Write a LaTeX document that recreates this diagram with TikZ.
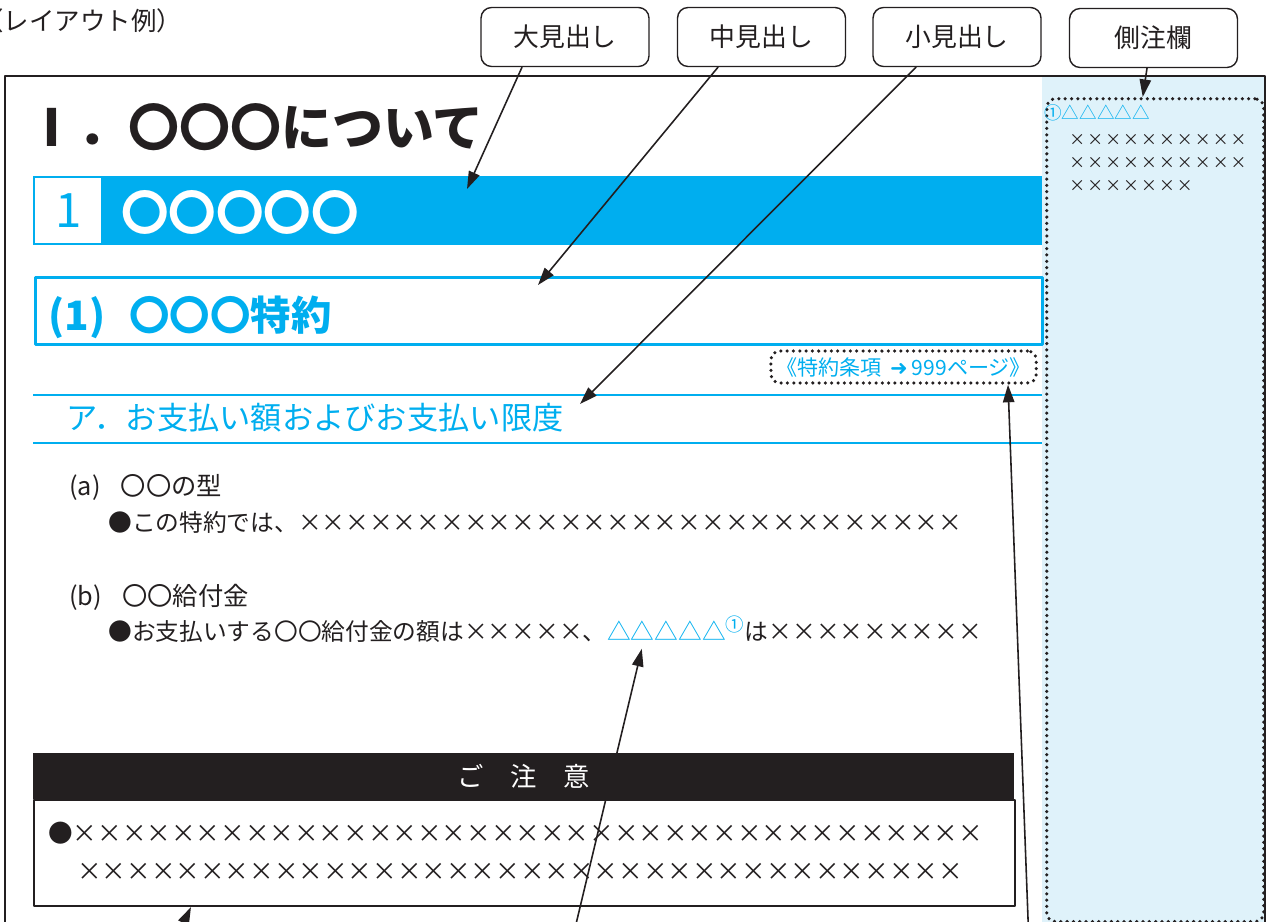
\documentclass[tikz,border=0pt]{standalone}
\usepackage{fontspec}
\usepackage{xcolor}
\setmainfont{Noto Sans CJK JP}
\newfontfamily\dingfont{DejaVu Sans}
\usetikzlibrary{arrows.meta}
\definecolor{headcyan}{HTML}{00AEEF}
\definecolor{sidenote}{HTML}{DFF2FA}
\definecolor{inkblack}{HTML}{231F20}
\newcommand{\fsz}[1]{\fontsize{#1}{#1}\selectfont}
\newcommand{\xrow}[2]{\foreach \cnt in {1,...,#1}{\makebox[#2]{×}}}
\tikzset{
  tagbox/.style={draw=inkblack,line width=0.8pt,rounded corners=6pt,minimum width=3.36cm,minimum height=1.18cm,text=inkblack,font=\fsz{14.7pt}},
  pointer/.style={->,line width=0.9pt,draw=inkblack},
  dotbox/.style={draw=inkblack,line width=2pt,line cap=round,dash pattern=on 0pt off 3.6pt,rounded corners=5pt},
  bodytext/.style={anchor=west,inner sep=0pt,text=inkblack,font=\fsz{13.5pt}}
}
\begin{document}
\begin{tikzpicture}[line cap=round,line join=round,>={Triangle[length=10pt,width=6.5pt]},x=0.02cm,y=-0.02cm]
		\useasboundingbox (0,0) rectangle (1267,922);
		\clip (0,0) rectangle (1267,922);
		% side column and page frame
		\fill[sidenote] (1042,76) rectangle (1265,940);
		\node[dotbox,minimum width=4.34cm,minimum height=16.46cm,anchor=north west,inner sep=0pt] (sidebox) at (1045,97) {};
		\draw[line width=1.1pt,draw=inkblack,line cap=butt] (5,940) -- (5,76) -- (1265,76) -- (1265,940);
		\node[anchor=west,inner sep=0pt,text=inkblack,font=\fsz{14.5pt}] (caption) at (-22,21) {（レイアウト例）};
		% headings
		\node[anchor=west,inner sep=0pt,text=inkblack,font=\fsz{29pt}\bfseries] (chapter) at (26,127) {Ⅰ．〇〇〇について};
		\fill[headcyan] (33,176) rectangle (1042,245);
		\node[fill=white,minimum width=1.32cm,minimum height=1.30cm,inner sep=0pt,anchor=north west,text=headcyan,font=\fsz{27pt}] (secnum) at (35,178) {1};
		\node[anchor=west,inner sep=0pt,text=white,font=\fsz{27pt}\bfseries] (section) at (121,212) {〇〇〇〇〇};
		\node[draw=headcyan,line width=1.6pt,minimum width=20.14cm,minimum height=1.34cm,anchor=north west,inner sep=0pt] (subbox) at (34,276) {};
		\node[anchor=west,inner sep=0pt,text=headcyan,font=\fsz{23pt}\bfseries] (subsection) at (48,317) {(1)\hspace{0.6em}〇〇〇特約};
		\node[dotbox,text=headcyan,font=\fsz{12pt},anchor=east,inner xsep=3pt,inner ysep=2pt,minimum height=0.64cm] (refpage) at (1038,367) {《特約条項\hspace{0.4em}{\dingfont\bfseries ➜}\hspace{0.2em}999ページ》};
		\draw[draw=headcyan,line width=1.6pt,line cap=butt] (33,395) -- (1042,395);
		\draw[draw=headcyan,line width=1.6pt,line cap=butt] (33,443) -- (1042,443);
		\node[anchor=west,inner sep=0pt,text=headcyan,font=\fsz{17.8pt}] (subsub) at (66,418) {ア．お支払い額およびお支払い限度};
		% body text
		\node[bodytext,font=\fsz{14.4pt}] (itema) at (69,487) {(a)\hspace{0.8em}〇〇の型};
		\node[bodytext] (linea) at (108,522) {●この特約では、\xrow{28}{1em}};
		\node[bodytext,font=\fsz{14.4pt}] (itemb) at (69,597) {(b)\hspace{0.8em}〇〇給付金};
		\node[bodytext] (lineb) at (108,632) {●お支払いする〇〇給付金の額は\xrow{5}{1em}、};
		\node[bodytext,anchor=base west,text=headcyan] (marks) at (lineb.base east) {△△△△△\raisebox{0.4em}{\fsz{10.5pt}①}};
		\node[bodytext,anchor=base west] (lineb2) at (marks.base east) {は\xrow{9}{1em}};
		% notes box
		\node[fill=inkblack,text=white,anchor=north west,inner sep=0pt,minimum width=19.62cm,minimum height=0.92cm,font=\fsz{15pt}] (notehead) at (33,753) {ご　注　意};
		\node[draw=inkblack,line width=1.2pt,anchor=north west,inner sep=0pt,minimum width=19.62cm,minimum height=2.12cm] (notebody) at (33,799) {};
		\node[bodytext,font=\fsz{14pt}] (noteline1) at (48,833) {●\xrow{37}{1em}};
		\node[bodytext,font=\fsz{14pt}] (noteline2) at (77,872) {\xrow{36}{1em}};
		% side notes
		\node[anchor=west,inner sep=0pt,text=headcyan,font=\fsz{10pt}] (sidehead) at (1044,113) {①△△△△△};
		\node[anchor=west,inner sep=0pt,text=inkblack,font=\fontsize{9pt}{13.3pt}\selectfont,align=left] (sidebody) at (1068,163) {\xrow{10}{10.2pt}\\\xrow{10}{10.2pt}\\\xrow{7}{10.2pt}};
		% labels on top
		\node[tagbox] (tagbig) at (565,37) {大見出し};
		\node[tagbox] (tagmid) at (761.5,37) {中見出し};
		\node[tagbox] (tagsmall) at (957,37) {小見出し};
		\node[tagbox] (tagside) at (1153.5,38) {側注欄};
		\coordinate (tipbig) at (467,189);
		\coordinate (tipmid) at (538,285);
		\coordinate (tipsmall) at (580,404);
		\draw[pointer] ([xshift=-0.86cm]tagbig.south) -- (tipbig);
		\draw[pointer] ([xshift=-0.87cm]tagmid.south) -- (tipmid);
		\draw[pointer] ([xshift=-0.82cm]tagsmall.south) -- (tipsmall);
		\draw[pointer] ([xshift=-0.13cm]tagside.south) -- ([xshift=-0.25cm]sidebox.north);
		% pointers from below
		\coordinate (tailnote) at (173,945);
		\coordinate (tailmark) at (571,945);
		\coordinate (tailref) at (1029,945);
		\draw[pointer] (tailnote) -- ([xshift=3.16cm]notebody.south west);
		\draw[pointer] (tailmark) -- ([xshift=0.7cm,yshift=-0.15cm]marks.south west);
		\draw[pointer] (tailref) -- ([xshift=-0.6cm]refpage.south east);
\end{tikzpicture}
\end{document}
